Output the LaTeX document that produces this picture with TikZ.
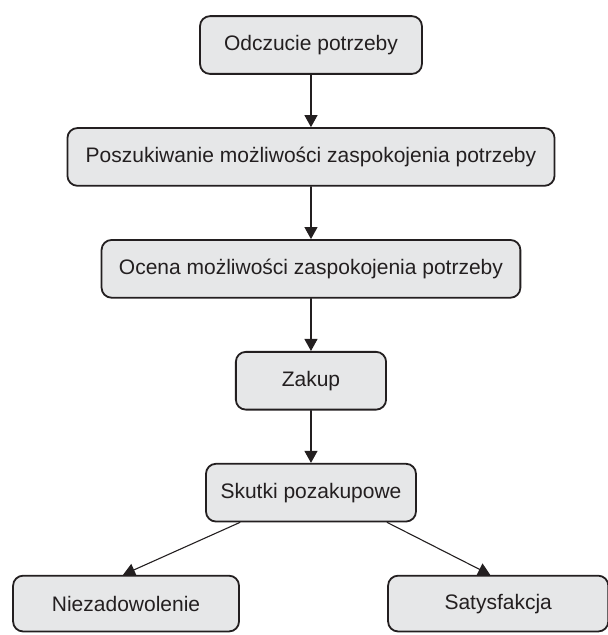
\documentclass[tikz,border=0pt]{standalone}
\usepackage{fontspec}
\setmainfont{Liberation Sans}
\usepackage{xcolor}
\usepackage{tikz}
\usetikzlibrary{arrows.meta,calc,positioning}

\definecolor{boxfill}{HTML}{E6E7E8}
\definecolor{ink}{HTML}{231F20}

\begin{document}
\begin{tikzpicture}[
  font=\fontsize{10.5}{12.6}\selectfont,
  line cap=round,
  node distance=0.92cm,
  arr/.style={-{Triangle[length=6pt,width=6.5pt]}, line width=0.55pt, draw=ink},
  stage/.style={rectangle, rounded corners=5pt, minimum height=1.015cm,
    inner sep=4pt, align=center, draw=ink, line width=0.9pt, fill=boxfill, text=ink},
  outcome/.style={stage, minimum height=0.98cm},
]
  \useasboundingbox (-5.465,0.791) rectangle (5.219,-10.368);
  % Main chain of the purchase process
  \node[stage, minimum width=3.90cm] (potrzeba) at (0,0) {Odczucie potrzeby};
  \node[stage, minimum width=8.56cm, below=of potrzeba] (poszukiwanie)
    {Poszukiwanie możliwości zaspokojenia potrzeby};
  \node[stage, minimum width=7.36cm, below=of poszukiwanie] (ocena)
    {Ocena możliwości zaspokojenia potrzeby};
  \node[stage, minimum width=2.64cm, below=of ocena] (zakup) {Zakup};
  \node[stage, minimum width=3.69cm, below=of zakup] (skutki) {Skutki pozakupowe};
  % Two possible outcomes
  \node[outcome, minimum width=3.97cm, below=of skutki, xshift=-3.25cm] (niezad) {Niezadowolenie};
  \node[outcome, minimum width=3.87cm, below=of skutki, xshift=3.29cm] (satys) {Satysfakcja};
  % Arrows
  \draw[arr] (potrzeba) -- (poszukiwanie);
  \draw[arr] (poszukiwanie) -- (ocena);
  \draw[arr] (ocena) -- (zakup);
  \draw[arr] (zakup) -- (skutki);
  \draw[arr] (skutki.south -| niezad.north east) -- ($(niezad.north)+(-1.5pt,0)$);
  \draw[arr] (skutki.south -| satys.north west) -- ($(satys.north)+(-4pt,0)$);
\end{tikzpicture}
\end{document}
